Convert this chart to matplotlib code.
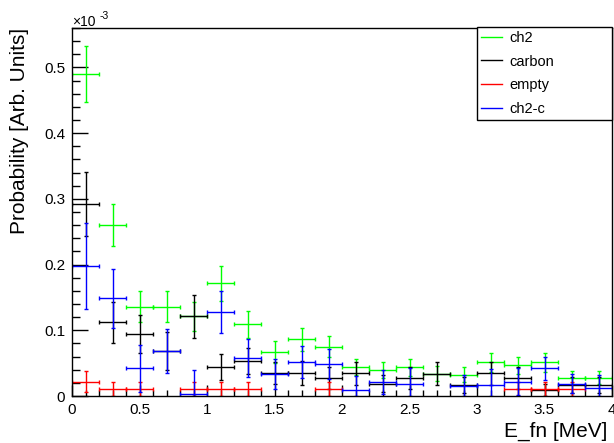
import numpy as np
import matplotlib
matplotlib.use("Agg")
import matplotlib.pyplot as plt
from matplotlib.lines import Line2D
from matplotlib.ticker import MultipleLocator, FormatStrFormatter

plt.rcParams['font.family'] = ['Liberation Sans', 'DejaVu Sans']

# ----- data (probability in units of 1e-3), 20 bins of width 0.2 MeV -----
nan = np.nan
bin_centers = np.arange(0.1, 4.0, 0.2)
bin_halfwidth = 0.1

ch2 = [0.490, 0.260, 0.136, 0.136, 0.121, 0.1715, 0.109, 0.067, 0.086, 0.0746,
       0.0436, 0.040, 0.0436, 0.034, 0.0325, 0.051, 0.047, 0.051, 0.028, 0.028]
ch2_err = [0.043, 0.032, 0.024, 0.024, 0.022, 0.027, 0.021, 0.017, 0.018, 0.016,
           0.012, 0.012, 0.013, 0.011, 0.011, 0.014, 0.013, 0.014, 0.010, 0.010]

carbon = [0.292, 0.112, 0.094, 0.068, 0.121, 0.0436, 0.053, 0.0355, 0.0355, 0.0274,
          0.0345, 0.019, 0.0274, 0.034, 0.017, 0.0345, 0.0274, 0.009, 0.0167, 0.017]
carbon_err = [0.049, 0.031, 0.029, 0.029, 0.032, 0.020, 0.020, 0.017, 0.018, 0.016,
              0.017, 0.013, 0.016, 0.017, 0.012, 0.017, 0.016, 0.009, 0.012, 0.012]

empty = [0.0218, 0.0107, 0.0107, nan, 0.0107, 0.0107, 0.0107, nan, nan, 0.0107,
         nan, nan, nan, nan, nan, nan, 0.0107, 0.0107, 0.0107, nan]
empty_err = [0.016, 0.0107, 0.0107, nan, 0.0107, 0.0107, 0.0107, nan, nan, 0.0107,
             nan, nan, nan, nan, nan, nan, 0.0107, 0.0107, 0.0107, nan]

ch2_c = [0.198, 0.149, 0.042, 0.0685, 0.0026, 0.128, 0.058, 0.0335, 0.052, 0.0487,
         0.009, 0.021, 0.018, nan, 0.015, 0.016, 0.022, 0.042, 0.019, 0.0117]
ch2_c_err = [0.066, 0.045, 0.036, 0.033, 0.037, 0.032, 0.029, 0.023, 0.024, 0.0225,
             0.021, 0.018, 0.024, nan, 0.017, 0.025, 0.020, 0.017, 0.014, 0.020]

series = [("ch2", ch2, ch2_err, "#00ff00"),
          ("carbon", carbon, carbon_err, "black"),
          ("empty", empty, empty_err, "#ff0000"),
          ("ch2-c", ch2_c, ch2_c_err, "#0000ff")]

# ----- figure -----
fig = plt.figure(figsize=(6.14, 4.43), dpi=100)
W, H = 614, 443
ax = fig.add_axes([72 / W, 1 - 396 / H, 540 / W, 368 / H])

for name, vals, errs, col in series:
    v = np.array(vals, dtype=float)
    e = np.array(errs, dtype=float)
    ok = ~np.isnan(v)
    lo = np.minimum(e[ok], v[ok])  # error bars stop at zero
    ax.errorbar(bin_centers[ok], v[ok], xerr=bin_halfwidth, yerr=[lo, e[ok]],
                fmt='none', ecolor=col, elinewidth=1.0, capsize=1.6,
                capthick=1.0, clip_on=True)

ax.set_xlim(0, 4)
ax.set_ylim(0, 0.56)

ax.xaxis.set_major_locator(MultipleLocator(0.5))
ax.xaxis.set_minor_locator(MultipleLocator(0.1))
ax.yaxis.set_major_locator(MultipleLocator(0.1))
ax.yaxis.set_minor_locator(MultipleLocator(0.02))
ax.xaxis.set_major_formatter(FormatStrFormatter('%g'))
ax.yaxis.set_major_formatter(FormatStrFormatter('%g'))

ax.tick_params(axis='both', which='both', direction='in', top=False, right=False,
               labelsize=11, width=1, color='black')
ax.tick_params(axis='y', which='major', length=11.5, pad=5)
ax.tick_params(axis='y', which='minor', length=5.5)
ax.tick_params(axis='x', which='major', length=8, pad=5)
ax.tick_params(axis='x', which='minor', length=4)
for sp in ax.spines.values():
    sp.set_linewidth(1)
    sp.set_color('black')

# axis titles (ROOT style: aligned to the axis end)
fig.text(607 / W, 1 - 441 / H, "E_fn [MeV]", ha='right', va='bottom', fontsize=15)
fig.text(20 / W, 1 - 28 / H, "Probability [Arb. Units]", rotation=90,
         ha='center', va='top', fontsize=15)

# exponent label
fig.text(72 / W, 1 - 26 / H, "\u00d710", ha='left', va='baseline', fontsize=10)
fig.text(99.5 / W, 1 - 19 / H, "-3", ha='left', va='baseline', fontsize=7.5)

# legend
handles = [Line2D([], [], color=c, lw=1) for _, _, _, c in series]
labels = [n for n, _, _, _ in series]
leg = fig.legend(handles, labels, loc='upper left',
                 bbox_to_anchor=(477 / W, 1 - 27 / H, 135 / W, 0.001),
                 bbox_transform=fig.transFigure, mode='expand',
                 fontsize=10.5, frameon=True, fancybox=False, framealpha=1,
                 edgecolor='black', borderpad=0.28, labelspacing=0.68,
                 handlelength=1.4, handletextpad=0.55, borderaxespad=0)
leg.get_frame().set_linewidth(1)

fig.savefig("out.png", dpi=100)
